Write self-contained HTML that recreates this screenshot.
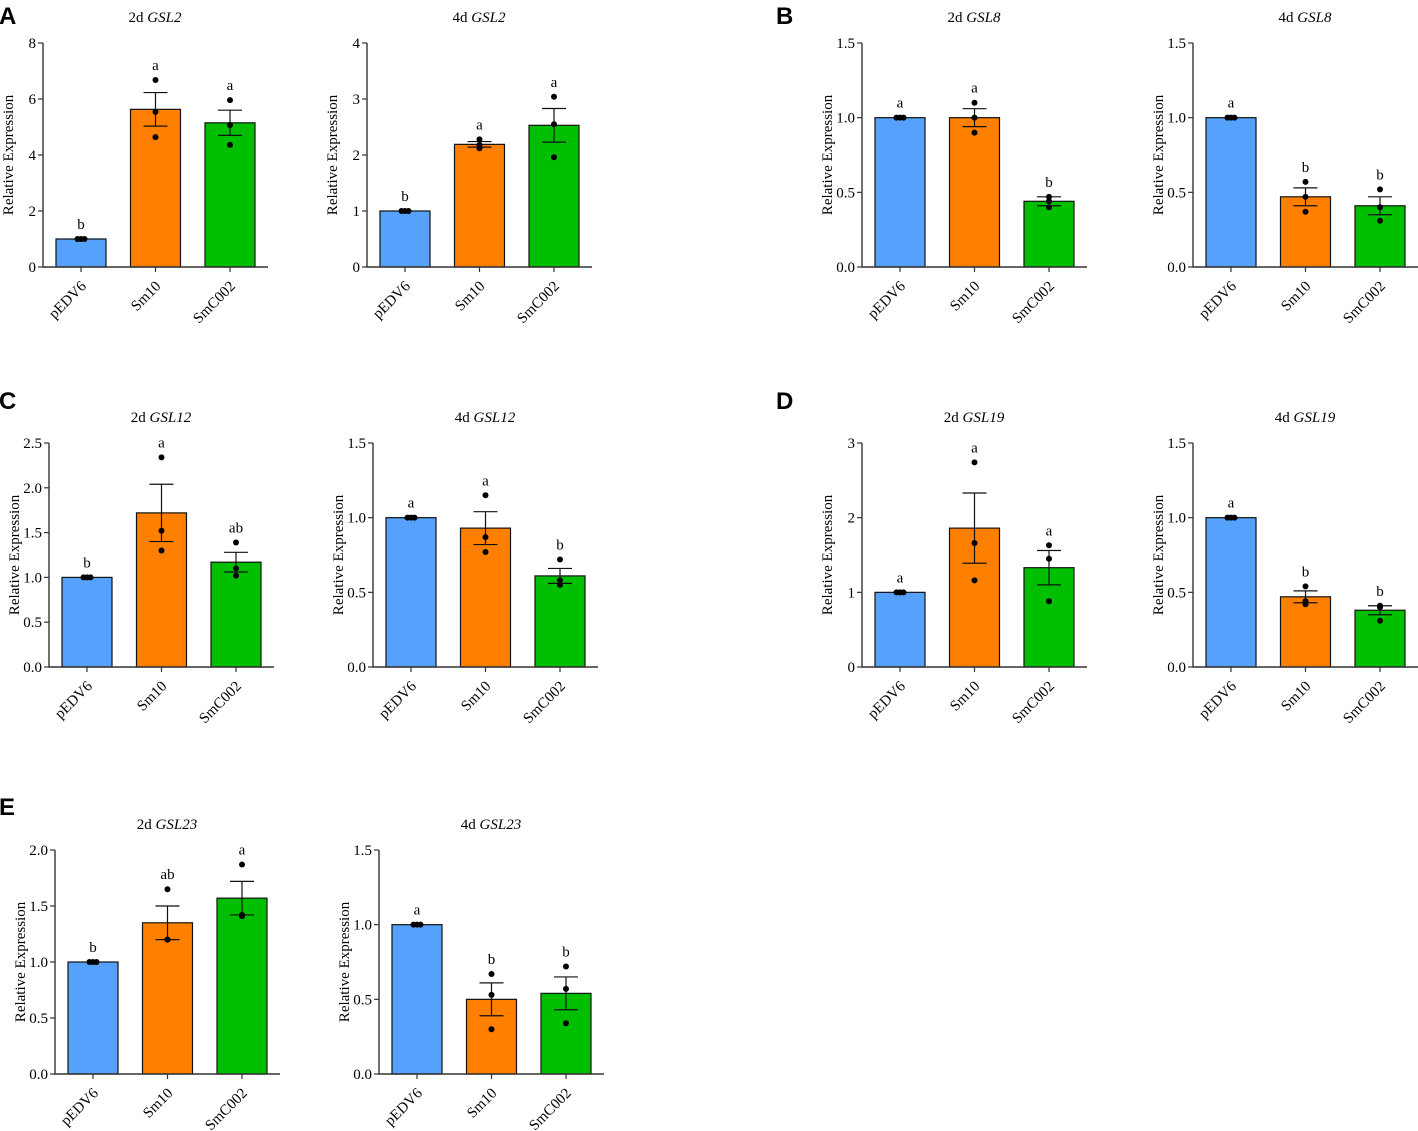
<!DOCTYPE html>
<html><head><meta charset="utf-8">
<style>
body{margin:0;background:#fff;}
svg{display:block;font-family:"Liberation Serif",serif;}
.pl{font-family:"Liberation Sans",sans-serif;font-weight:bold;font-size:24px;}
</style></head>
<body>
<svg id="fig" width="1418" height="1131" viewBox="0 0 1418 1131" xmlns="http://www.w3.org/2000/svg">
<text class="pl" x="-1" y="24">A</text>
<text class="pl" x="776" y="24">B</text>
<text class="pl" x="-1" y="409">C</text>
<text class="pl" x="776" y="409">D</text>
<text class="pl" x="-1" y="815">E</text>
</svg>
<script>
const categories = ["pEDV6","Sm10","SmC002"];
const colors = ["#55a1fc","#ff7f00","#00bf00"];
const titlesDay = ["2d","4d","2d","4d","2d","4d","2d","4d","2d","4d"];
const titlesGene = ["GSL2","GSL2","GSL8","GSL8","GSL12","GSL12","GSL19","GSL19","GSL23","GSL23"];
const yMax = [8,4,1.5,1.5,2.5,1.5,3,1.5,2.0,1.5];
const yStep = [2,1,0.5,0.5,0.5,0.5,1,0.5,0.5,0.5];
const tickDecimals = [0,0,1,1,1,1,0,1,1,1];
const means = [[1,5.63,5.15],[1,2.19,2.53],[1,1,0.44],[1,0.47,0.41],[1,1.72,1.17],[1,0.93,0.61],[1,1.86,1.33],[1,0.47,0.38],[1,1.35,1.57],[1,0.5,0.54]];
const sems = [[0,0.6,0.45],[0,0.05,0.3],[0,0.06,0.03],[0,0.06,0.06],[0,0.32,0.11],[0,0.11,0.05],[0,0.47,0.23],[0,0.04,0.03],[0,0.15,0.15],[0,0.11,0.11]];
const points = [
 [[1,1,1],[6.68,5.54,4.64],[5.96,5.07,4.36]],
 [[1,1,1],[2.28,2.18,2.12],[3.04,2.55,1.96]],
 [[1,1,1],[1.1,1.0,0.9],[0.47,0.44,0.4]],
 [[1,1,1],[0.57,0.47,0.37],[0.52,0.4,0.31]],
 [[1,1,1],[2.34,1.52,1.3],[1.39,1.1,1.02]],
 [[1,1,1],[1.15,0.87,0.77],[0.72,0.58,0.55]],
 [[1,1,1],[2.74,1.66,1.16],[1.63,1.45,0.88]],
 [[1,1,1],[0.54,0.44,0.42],[0.41,0.4,0.31]],
 [[1,1,1],[1.65,1.2,1.2],[1.87,1.42,1.41]],
 [[1,1,1],[0.67,0.53,0.3],[0.72,0.57,0.34]]
];
const letters = [["b","a","a"],["b","a","a"],["a","a","b"],["a","b","b"],["b","a","ab"],["a","a","b"],["a","a","a"],["a","b","b"],["b","ab","a"],["a","b","b"]];
const layout = [[43,43,267],[367,43,267],[862,43,267],[1193,43,267],[49,443,667],[373,443,667],[862,443,667],[1193,443,667],[55,850,1074],[379,850,1074]];

const NS="http://www.w3.org/2000/svg";
const svg=document.getElementById('fig');
function mk(tag,attrs,parent){const e=document.createElementNS(NS,tag);for(const k in attrs)e.setAttribute(k,attrs[k]);(parent||svg).appendChild(e);return e;}

for(let p=0;p<10;p++){
  const [ax,top,bot]=layout[p];
  const g=mk('g',{});
  
  
  const y=v=>bot-(v/yMax[p])*(bot-top);
  const bx=i=>ax+13+i*74.5;
  const bw=50;
  const t=mk('text',{x:ax+112,y:top-21,'text-anchor':'middle','font-size':'15'},g);
  
  
  t.textContent=titlesDay[p]+' ';
  const ts=mk('tspan',{'font-style':'italic'},t);ts.textContent=titlesGene[p];
  const yl=mk('text',{x:0,y:0,'text-anchor':'middle','font-size':'15',transform:`translate(${ax-30},${(top+bot)/2}) rotate(-90)`},g);
  
  
  yl.textContent='Relative Expression';
  for(let i=0;i<3;i++){
    const r=mk('rect',{x:bx(i),y:y(means[p][i]),width:bw,height:bot-y(means[p][i]),fill:colors[i],stroke:'#111','stroke-width':1.2},g);
    
    
    const cx=bx(i)+bw/2;
    if(sems[p][i]>0){
      const hi=y(means[p][i]+sems[p][i]), lo=y(means[p][i]-sems[p][i]);
      const eb=mk('path',{d:`M${cx},${hi}V${lo}M${cx-12},${hi}H${cx+12}M${cx-12},${lo}H${cx+12}`,stroke:'#111','stroke-width':1.2,fill:'none'},g);
      
      
    }
    points[p][i].forEach((v,k)=>{
      const off=(sems[p][i]===0)?(k-1)*3.5:0;
      const c=mk('circle',{cx:cx+off,cy:y(v),r:3,fill:'#000'},g);
      
      
    });
    const maxv=Math.max(means[p][i]+sems[p][i],...points[p][i]);
    const lt=mk('text',{x:cx,y:y(maxv)-10,'text-anchor':'middle','font-size':'15'},g);
    
    
    lt.textContent=letters[p][i];
    mk('line',{x1:cx,x2:cx,y1:bot,y2:bot+5,stroke:'#333','stroke-width':1.2},g);
    const xl=mk('text',{x:0,y:0,'text-anchor':'end','font-size':'15',transform:`translate(${cx+6},${bot+20}) rotate(-45)`},g);
    
    
    xl.textContent=categories[i];
  }
  const axl=mk('path',{d:`M${ax},${top}V${bot}H${ax+225}`,stroke:'#333','stroke-width':1.4,fill:'none'},g);
  
  
  const n=Math.round(yMax[p]/yStep[p]);
  for(let k=0;k<=n;k++){
    const v=k*yStep[p];
    mk('line',{x1:ax-5,x2:ax,y1:y(v),y2:y(v),stroke:'#333','stroke-width':1.2},g);
    const tl=mk('text',{x:ax-7,y:y(v)+5,'text-anchor':'end','font-size':'15'},g);
    
    
    tl.textContent=v.toFixed(tickDecimals[p]);
  }
}
</script>
</body></html>
